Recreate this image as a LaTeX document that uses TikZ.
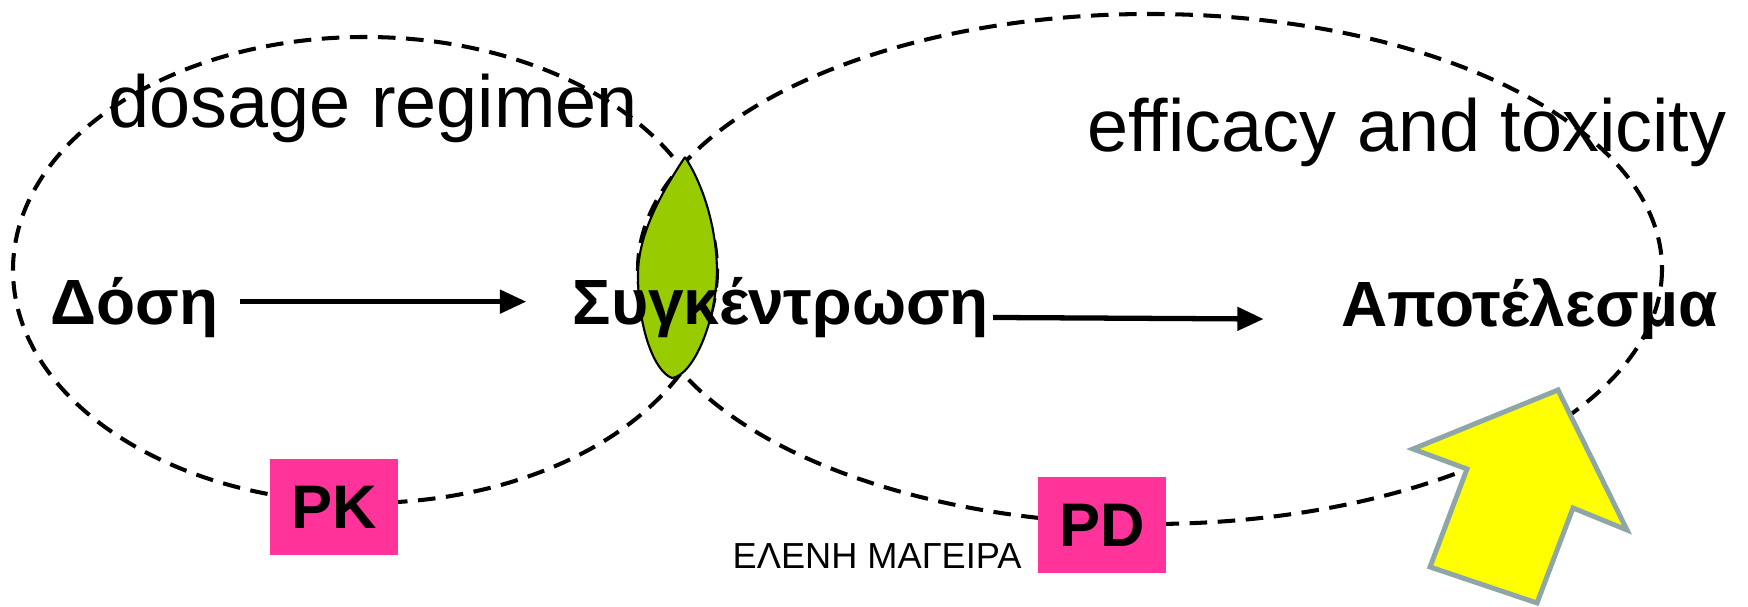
\documentclass[tikz,border=0pt]{standalone}
\usepackage{fontspec}
\setmainfont{Liberation Sans}
\usepackage{tikz}
\usetikzlibrary{arrows.meta, calc, positioning}
\definecolor{pkpink}{RGB}{255, 51, 153}
\definecolor{lensgreen}{RGB}{153, 204, 0}
\definecolor{arrowyellow}{RGB}{255, 255, 0}
\definecolor{arrowgray}{RGB}{143, 166, 168}

\begin{document}
\begin{tikzpicture}[x=0.1mm, y=-0.1mm,
    region/.style={dash pattern=on 5pt off 3pt, line width=1.15pt},
    term/.style={inner sep=0pt, anchor=base west, font=\fontsize{18.2}{20}\selectfont\bfseries},
    label/.style={inner sep=0pt, anchor=base west, font=\fontsize{21}{24}\selectfont},
    tag/.style={fill=pkpink, minimum width=12.8mm, minimum height=9.6mm, inner sep=0pt, font=\fontsize{17.5}{20}\selectfont\bfseries},
    flow/.style={line width=1.5pt, -{Triangle[length=7.5pt, width=6.5pt]}}]
    \useasboundingbox (0,0) rectangle (1748,607);

    % Two regions
    \draw[region] (365,270) ellipse [x radius=352, y radius=233];
    \draw[region] (1150,269) ellipse [x radius=512, y radius=255];

    % Overlap (lens)
    \draw[fill=lensgreen, line width=0.6pt] (685,157) .. controls (660,195) and (638,235) .. (638,275)
        .. controls (638,330) and (655,372) .. (672,378)
        .. controls (692,376) and (716,325) .. (717,270)
        .. controls (716,220) and (700,180) .. (685,157);

    % Labels of the regions
    \node[label] (regimen) at (108,128) {dosage regimen};
    \node[label] (effect) at (1087,152) {efficacy and toxicity};

    % Chain
    \node[term] (dosi) at (50,325) {Δόση};
    \node[term] (sygk) at (572,325) {Συγκέντρωση};
    \node[term] (apot) at (1341,327) {Αποτέλεσμα};
    \draw[flow, shorten <=6pt, shorten >=13pt] ([yshift=4pt]dosi.mid east) -- ([yshift=4pt]sygk.mid west);
    \draw[flow, shorten <=1pt, shorten >=22pt] ([yshift=-0.5pt]sygk.mid east) -- ([yshift=-0.5pt]apot.mid west);

    % PK / PD tags
    \node[tag] (pk) at (334,507) {PK};
    \node[tag] (pd) at (1102,525) {PD};
    \node[inner sep=0pt, anchor=base west, font=\fontsize{10.3}{12}\selectfont] (author) at (732,569) {ΕΛΕΝΗ ΜΑΓΕΙΡΑ};

    % Big arrow
    \draw[fill=arrowyellow, draw=arrowgray, line width=1.4pt, line join=miter]
        (1558,390) -- (1627,530) -- (1573,508) -- (1537,603) -- (1430,567) -- (1467,469) -- (1413,449) -- cycle;
\end{tikzpicture}
\end{document}
